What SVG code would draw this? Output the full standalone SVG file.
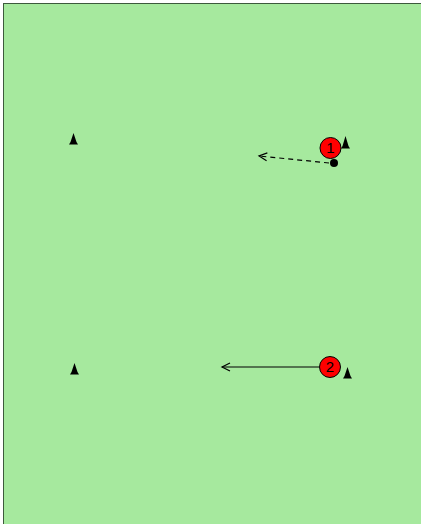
<svg xmlns="http://www.w3.org/2000/svg" width="421" height="524" viewBox="0 0 421 524">
<style>
.cone{fill:#000}
.player circle{fill:#f00;stroke:#000;stroke-width:1}
.player text{font-family:"Liberation Sans",Arial,sans-serif;font-size:15px;fill:#000;text-anchor:middle}
.conn{stroke:#000;stroke-width:1.2;fill:none}
</style>
<defs>
<marker id="open" markerWidth="12" markerHeight="12" refX="9" refY="5" orient="auto" markerUnits="userSpaceOnUse">
<path d="M1,1 L9,5 L1,9" fill="none" stroke="#000" stroke-width="1.2"/>
</marker>
</defs>
<rect x="3.5" y="3.5" width="430" height="530" fill="#a6e99e" stroke="#3d5a3c" stroke-width="1"/>
<g id="connectors">
<path class="conn" d="M329,163 L259,156" stroke-dasharray="5,4" marker-end="url(#open)"/>
<path class="conn" d="M319,367 L222,367" marker-end="url(#open)"/>
</g>
<g id="cone-tl"><path class="cone" d="M69,144.5 L70.5,142 L73.5,133 L76.5,142 L78,144.5 Z"/></g>
<g id="cone-bl"><path class="cone" d="M70,374.5 L71.5,372 L74.5,363 L77.5,372 L79,374.5 Z"/></g>
<g id="cone-p1"><path class="cone" d="M341,148.5 L342.5,146 L345.5,136 L348.5,146 L350,148.5 Z"/></g>
<g id="cone-p2"><path class="cone" d="M343,378.5 L344.5,376 L347.5,367 L350.5,376 L352,378.5 Z"/></g>
<g id="ball"><circle cx="334" cy="163" r="4" fill="#000"/></g>
<g id="player1" class="player"><circle cx="330.5" cy="148" r="10.5"/><text x="330.5" y="153">1</text></g>
<g id="player2" class="player"><circle cx="330" cy="367" r="10.5"/><text x="330" y="372">2</text></g>
</svg>
